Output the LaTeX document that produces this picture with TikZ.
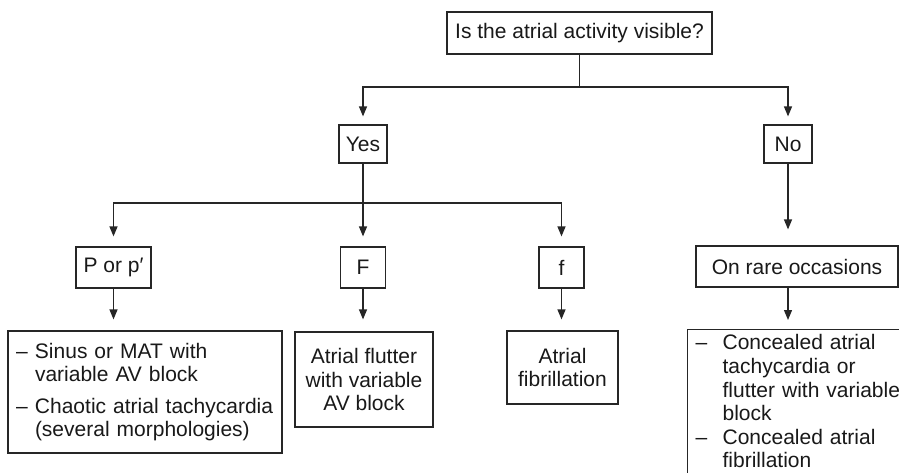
\documentclass[tikz,border=0pt]{standalone}
\usepackage{fontspec}
\setmainfont{Liberation Sans}
\usetikzlibrary{arrows.meta}
\newcommand{\dashitem}[1]{\makebox[#1][l]{–}}

\begin{document}
\begin{tikzpicture}[x=1pt,y=1pt,
  box/.style={draw=black!85,line width=1.2pt,inner sep=0pt,text=black!90,
    font=\fontsize{21}{23.6}\selectfont},
  link/.style={draw=black!85,line width=1.2pt},
  arr/.style={link,-{Triangle[length=10pt,width=8pt]}}]
\useasboundingbox (0,0) rectangle (899,-472);
\fill[white] (0,0) rectangle (899,-472);
% Drawing boxes
\node[box,minimum width=265pt,minimum height=42pt] (visible) at (579.5,-33) {Is the atrial activity visible?};
\node[box,minimum width=48pt,minimum height=38pt] (yes) at (363,-144) {Yes};
\node[box,minimum width=48pt,minimum height=38pt] (no) at (788,-144) {No};
\node[box,minimum width=75pt,minimum height=41pt] (pwave) at (113.5,-267.5) {P or p′};
\node[box,minimum width=45pt,minimum height=41pt] (bigF) at (363,-267.5) {F};
\node[box,minimum width=45pt,minimum height=41pt] (smallf) at (561.5,-267.5) {f};
\node[box,minimum width=202pt,minimum height=41pt] (rare) at (797,-266.5) {On rare occasions};
% Bottom row
\node[box,minimum width=274pt,minimum height=122pt,text width=262pt,align=left] (sinus) at (145,-392)
  {\hspace*{2pt}\dashitem{19pt}Sinus or MAT with\\\hspace*{21pt}variable AV block\\[8pt]
   \hspace*{2pt}\dashitem{19pt}Chaotic atrial tachycardia\\\hspace*{21pt}(several morphologies)\\[4pt]};
\node[box,minimum width=138pt,minimum height=95pt,align=center] (flutter) at (364,-379.5)
  {Atrial flutter\\with variable\\AV block};
\node[box,minimum width=111pt,minimum height=73pt,align=center] (fib) at (562.5,-367.5)
  {Atrial\\fibrillation};
% this one runs past the lower edge
\node[box,anchor=north west,minimum width=230pt,text width=214pt,
  align=left,inner xsep=8pt,inner ysep=5pt] (hidden) at (687,-329)
  {\dashitem{27pt}Concealed atrial\\\hspace*{27pt}tachycardia or\\\hspace*{27pt}flutter with variable\\
   \hspace*{27pt}block\\\dashitem{27pt}Concealed atrial\\\hspace*{27pt}fibrillation\\\mbox{}};
% Drawing connectors
\coordinate (split1) at (579.5,-87);
\coordinate (split2) at (363,-203);
\draw[link] (visible.south) -- (split1);
\draw[arr,shorten >=8pt] (split1) -| (yes.north);
\draw[arr,shorten >=8pt] (split1) -| (no.north);
\draw[link] (yes.south) -- (split2);
\draw[arr,shorten >=10pt] (split2) -| (pwave.north);
\draw[arr,shorten >=10pt] (split2) -- (bigF.north);
\draw[arr,shorten >=10pt] (split2) -| (smallf.north);
\draw[arr,shorten >=16pt] (no.south) -- (no |- rare.north);
% Done with the top; arrows into the bottom row
\draw[arr,shorten >=11pt] (pwave.south) -- (pwave |- sinus.north);
\draw[arr,shorten >=12pt] (bigF.south) -- (bigF |- flutter.north);
\draw[arr,shorten >=11pt] (smallf.south) -- (smallf |- fib.north);
\draw[arr,shorten >=9pt] (no |- rare.south) -- (no |- hidden.north);
\end{tikzpicture}
\end{document}
